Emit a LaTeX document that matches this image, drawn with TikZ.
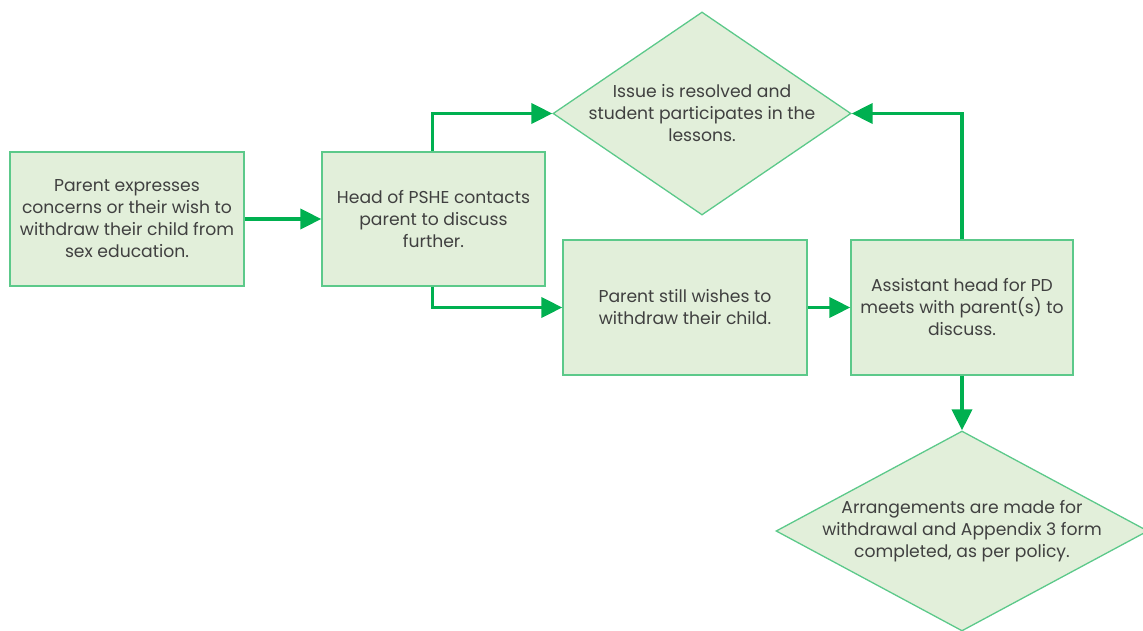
\documentclass[tikz,border=0pt]{standalone}
\usepackage{fontspec}
\setmainfont{Poppins}
\usetikzlibrary{shapes.geometric,arrows.meta}
\definecolor{boxfill}{HTML}{E2EFDA}
\definecolor{boxline}{HTML}{5CC98A}
\definecolor{arrowc}{HTML}{00B050}
\definecolor{textc}{HTML}{404040}
\begin{document}
\begin{tikzpicture}[x=1pt,y=-1pt,
  every node/.style={font=\fontsize{17.2}{22}\selectfont, text=textc},
  boxnode/.style={draw=boxline, fill=boxfill, line width=1.3pt, rectangle, inner sep=0pt, align=center},
  dianode/.style={draw=boxline, fill=boxfill, line width=1.3pt, diamond, inner sep=0pt},
  txt/.style={align=center, inner sep=0pt},
  flow/.style={draw=arrowc, line width=3.8pt, -{Triangle[length=21pt,width=20pt]}}
]
\useasboundingbox (0,0) rectangle (1143,631);
\node[boxnode, minimum width=234pt, minimum height=134pt] (b1) at (127,219)
  {Parent expresses\\concerns or their wish to\\withdraw their child from\\sex education.};
\node[boxnode, minimum width=223pt, minimum height=134pt] (b2) at (433.5,219)
  {Head of PSHE contacts\\parent to discuss\\further.};
\node[boxnode, minimum width=244pt, minimum height=135pt] (b3) at (685,307.5)
  {Parent still wishes to\\withdraw their child.};
\node[boxnode, minimum width=222pt, minimum height=135pt] (b4) at (962,307.5)
  {Assistant head for PD\\meets with parent(s) to\\discuss.};
\node[dianode, minimum width=298pt, minimum height=203pt] (d1) at (702,113.5) {};
\node[txt] (d1t) at (d1.center) {Issue is resolved and\\student participates in the\\lessons.};
\node[dianode, minimum width=372pt, minimum height=200pt] (d2) at (962,531) {};
\node[txt] (d2t) at (d2.center) {Arrangements are made for\\withdrawal and Appendix 3 form\\completed, as per policy.};

\draw[flow] (b1.east) -- (b2.west);
\draw[flow] ([xshift=-1pt]b2.north) |- (d1.west);
\draw[flow] ([xshift=-1pt]b2.south) |- (b3.west);
\draw[flow] (b3.east) -- (b4.west);
\draw[flow] (b4.north) |- (d1.east);
\draw[flow] (b4.south) -- (d2.north);
\end{tikzpicture}
\end{document}
